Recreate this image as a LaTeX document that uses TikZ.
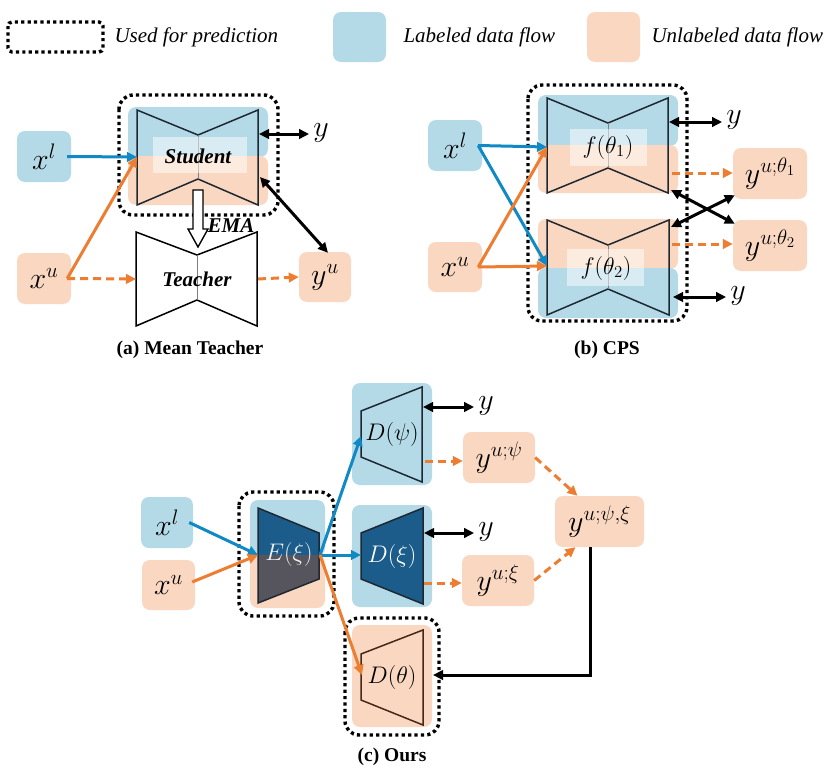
\RequirePackage{fix-cm}
\documentclass[tikz,border=0pt]{standalone}
\usepackage{fontspec}
\setmainfont{Liberation Serif}
\usetikzlibrary{arrows.meta}
\definecolor{lblue}{RGB}{180,218,232}
\definecolor{lorange}{RGB}{249,215,192}
\definecolor{ablue}{RGB}{16,137,196}
\definecolor{aorange}{RGB}{237,125,49}
\definecolor{dblue}{RGB}{27,92,138}
\definecolor{dgray}{RGB}{86,84,92}
\definecolor{edgec}{RGB}{30,40,50}
\definecolor{brownedge}{RGB}{70,40,25}
\tikzset{
  tip/.tip={Triangle[length=10pt,width=9.5pt]},
  bluebox/.style={fill=lblue, rounded corners=8pt, inner sep=0pt},
  orangebox/.style={fill=lorange, rounded corners=8pt, inner sep=0pt},
  predframe/.style={draw=black, line width=3.4pt, dash pattern=on 3.2pt off 3.2pt, rounded corners=14pt},
  bluearrow/.style={draw=ablue, line width=3pt, -tip},
  orangearrow/.style={draw=aorange, line width=3pt, -tip},
  dasharrow/.style={draw=aorange, line width=3pt, dash pattern=on 8pt off 5pt, -tip},
  biarrow/.style={draw=black, line width=3pt, tip-tip},
  blackarrow/.style={draw=black, line width=3pt, -tip},
  netline/.style={draw=edgec, line width=1.5pt, line join=miter},
  midline/.style={draw=gray, line width=0.8pt},
  labelbg/.style={fill=white, fill opacity=0.5},
  bigmath/.style={font=\fontsize{30}{34}\selectfont, inner sep=1pt},
  netmath/.style={font=\fontsize{24}{28}\selectfont, inner sep=1pt},
  netname/.style={font=\fontsize{21}{25}\selectfont\bfseries\itshape, inner sep=1pt},
  caption/.style={font=\fontsize{19.5}{23}\selectfont\bfseries},
  legendtext/.style={font=\fontsize{21}{25}\selectfont\itshape, anchor=west},
}
\begin{document}
\begin{tikzpicture}[x=1pt,y=-1pt]
\useasboundingbox[fill=white] (0,0) rectangle (831,771);

% ---------------- Legend ----------------
\draw[predframe, rounded corners=4pt] (8,22) rectangle (103,52);
\node[legendtext] (lg1) at (111,37) {Used for prediction};
\node[bluebox, minimum width=53pt, minimum height=50pt] (lgb) at (359.5,37) {};
\node[legendtext] (lg2) at (400,37) {Labeled data flow};
\node[orangebox, minimum width=53pt, minimum height=50pt] (lgo) at (613.5,37) {};
\node[legendtext] (lg3) at (648,37) {Unlabeled data flow};

% ---------------- (a) Mean Teacher ----------------
\fill[lblue, rounded corners=8pt] (128,107) rectangle (268,157);
\fill[lorange, rounded corners=8pt] (128,156) rectangle (268,205);
\draw[predframe] (119,95) rectangle (278,215);
\draw[netline] (137,110) -- (198,135) -- (258,110) -- (258,205) -- (198,179) -- (137,205) -- cycle;
\draw[midline] (198,135) -- (198,179);
\fill[labelbg] (153,137) rectangle (247,173);
\node[netname] (student) at (198,156) {Student};

\draw[netline, draw=black] (136,232) -- (197,255) -- (257,232) -- (257,326) -- (197,300) -- (136,326) -- cycle;
\draw[midline] (197,255) -- (197,300);
\node[netname] (teacher) at (197,279) {Teacher};

\filldraw[fill=white, draw=black, line width=1.4pt] (193,190) -- (193,229) -- (188,229) -- (198,247) -- (208,229) -- (203,229) -- (203,190) -- cycle;
\node[netname] (ema) at (231,226) {EMA};

\node[bluebox, minimum width=54pt, minimum height=51pt] (xla) at (44,156.5) {};
\node[bigmath] at (xla) {$x^{l}$};
\node[orangebox, minimum width=54pt, minimum height=51pt] (xua) at (44,278.5) {};
\node[bigmath] at (xua) {$x^{u}$};
\node[orangebox, minimum width=52pt, minimum height=50pt] (yua) at (325,277) {};
\node[bigmath] at (yua) {$y^{u}$};
\node[bigmath] (ya) at (321,133) {$y$};

\coordinate (stL) at (137,157);
\coordinate (teL) at (136,279);
\coordinate (teR) at (258,279);
\coordinate (stR1) at (259,134);
\coordinate (stR2) at (260,177);
\draw[bluearrow] ([xshift=-4pt]xla.east) -- (stL);
\draw[orangearrow] ([xshift=-4pt]xua.east) -- (stL);
\draw[dasharrow] ([xshift=-4pt]xua.east) -- (teL);
\draw[dasharrow] (teR) -- (yua.west);
\draw[biarrow] (stR1) -- ([xshift=-3pt]ya.west |- stR1);
\draw[biarrow] (stR2) -- ([xshift=3pt,yshift=-1pt]yua.north);
\node[caption] (capa) at (190,350) {(a) Mean Teacher};

% ---------------- (b) CPS ----------------
\fill[lblue, rounded corners=8pt] (538,95) rectangle (678,146);
\fill[lorange, rounded corners=8pt] (538,145) rectangle (678,193);
\fill[lorange, rounded corners=8pt] (538,219) rectangle (678,269);
\fill[lblue, rounded corners=8pt] (538,268) rectangle (678,318);
\draw[predframe] (528,85) rectangle (687,321);
\draw[netline] (547,98) -- (608,123) -- (668,98) -- (668,193) -- (608,168) -- (547,193) -- cycle;
\draw[midline] (608,123) -- (608,168);
\draw[netline] (547,220) -- (608,245) -- (669,220) -- (669,315) -- (608,289) -- (547,315) -- cycle;
\draw[midline] (608,245) -- (608,289);
\fill[labelbg] (570,129) rectangle (647,166);
\node[netmath] (f1) at (608,147) {$f(\theta_1)$};
\fill[labelbg] (567,249) rectangle (644,286);
\node[netmath] (f2) at (606,268) {$f(\theta_2)$};

\node[bluebox, minimum width=54pt, minimum height=51pt] (xlb) at (455,145.5) {};
\node[bigmath] at (xlb) {$x^{l}$};
\node[orangebox, minimum width=54pt, minimum height=50pt] (xub) at (455,267) {};
\node[bigmath] at (xub) {$x^{u}$};
\node[orangebox, minimum width=74pt, minimum height=51pt] (yt1) at (770,173.5) {};
\node[bigmath] at (yt1) {$y^{u;\theta_1}$};
\node[orangebox, minimum width=74pt, minimum height=51pt] (yt2) at (770,245.5) {};
\node[bigmath] at (yt2) {$y^{u;\theta_2}$};
\node[bigmath] (yb1) at (734,120) {$y$};
\node[bigmath] (yb2) at (738,296) {$y$};

\coordinate (f1L) at (547,147);
\coordinate (f2L) at (547,266);
\coordinate (f1R) at (669,122);
\coordinate (f1D) at (672,173);
\coordinate (f1X) at (671,190);
\coordinate (f2X) at (671,227);
\coordinate (f2D) at (672,244);
\coordinate (f2R) at (673,297);
\draw[bluearrow] ([xshift=-4pt]xlb.east) -- (f1L);
\draw[bluearrow] ([xshift=-4pt]xlb.east) -- (f2L);
\draw[orangearrow] ([xshift=-4pt]xub.east) -- (f1L);
\draw[orangearrow] ([xshift=-4pt]xub.east) -- (f2L);
\draw[biarrow] (f1R) -- ([xshift=-3pt]yb1.west |- f1R);
\draw[biarrow] (f2R) -- ([xshift=-3pt]yb2.west |- f2R);
\draw[dasharrow] (f1D) -- (yt1.west |- f1D);
\draw[dasharrow] (f2D) -- (yt2.west |- f2D);
\draw[biarrow] (f1X) -- ([xshift=2pt,yshift=-4pt]yt2.north west);
\draw[biarrow] (f2X) -- ([xshift=2pt,yshift=4pt]yt1.south west);
\node[caption] (capb) at (607,350) {(b) CPS};

% ---------------- (c) Ours ----------------
\fill[lblue, rounded corners=8pt] (250,500) rectangle (325,556);
\fill[lorange, rounded corners=8pt] (250,555) rectangle (325,608);
\draw[predframe] (239,492) rectangle (334,616);
\fill[dblue] (258,508) -- (319,533) -- (319,555) -- (258,555) -- cycle;
\fill[dgray] (258,555) -- (319,555) -- (319,579) -- (258,603) -- cycle;
\draw[netline] (258,508) -- (319,533) -- (319,579) -- (258,603) -- cycle;
\node[netmath, text=white!88!gray] (enc) at (289,554) {$E(\xi)$};

\node[bluebox, minimum width=80pt, minimum height=102pt] (dpbox) at (392,434) {};
\draw[netline] (361,411) -- (422,387) -- (422,482) -- (361,457) -- cycle;
\node[netmath] (dpsi) at (392,434) {$D(\psi)$};

\node[bluebox, minimum width=80pt, minimum height=102pt] (dxbox) at (392,556) {};
\filldraw[netline, fill=dblue] (361,533) -- (423,508) -- (423,604) -- (361,579) -- cycle;
\node[netmath, text=white] (dxi) at (392,556) {$D(\xi)$};

\node[orangebox, minimum width=80pt, minimum height=102pt] (dtbox) at (392,676) {};
\draw[predframe] (345,618) rectangle (439,735);
\draw[netline, draw=brownedge] (361,654) -- (423,630) -- (423,725) -- (361,700) -- cycle;
\node[netmath] (dth) at (392,677) {$D(\theta)$};

\node[bluebox, minimum width=52pt, minimum height=51pt] (xlc) at (167,522.5) {};
\node[bigmath] at (xlc) {$x^{l}$};
\node[orangebox, minimum width=53pt, minimum height=50pt] (xuc) at (168.5,585) {};
\node[bigmath] at (xuc) {$x^{u}$};
\node[orangebox, minimum width=72pt, minimum height=51pt] (ypsi) at (499,457.5) {};
\node[bigmath] at (ypsi) {$y^{u;\psi}$};
\node[orangebox, minimum width=72pt, minimum height=51pt] (yxi) at (498,580.5) {};
\node[bigmath] at (yxi) {$y^{u;\xi}$};
\node[orangebox, minimum width=89pt, minimum height=51pt] (ypx) at (599.5,521.5) {};
\node[bigmath] at (ypx) {$y^{u;\psi,\xi}$};
\node[bigmath] (yc1) at (486,406) {$y$};
\node[bigmath] (yc2) at (486,532) {$y$};

\coordinate (eL) at (258,555);
\coordinate (eR) at (320,555);
\coordinate (dpL) at (361,436);
\coordinate (dxL) at (361,555);
\coordinate (dtL) at (362,675);
\coordinate (dpR) at (423,407);
\coordinate (dpD) at (425,461);
\coordinate (dxR) at (424,533);
\coordinate (dxD) at (424,583);
\coordinate (dtR) at (433,675);
\draw[bluearrow] ([xshift=-4pt]xlc.east) -- (eL);
\draw[orangearrow] ([xshift=-3pt,yshift=3pt]xuc.east) -- (eL);
\draw[bluearrow] (eR) -- (dpL);
\draw[bluearrow] (eR) -- (dxL);
\draw[orangearrow] (eR) -- (dtL);
\draw[biarrow] (dpR) -- ([xshift=-3pt]yc1.west |- dpR);
\draw[biarrow] (dxR) -- ([xshift=-3pt]yc2.west |- dxR);
\draw[dasharrow] (dpD) -- (ypsi.west |- dpD);
\draw[dasharrow] (dxD) -- (yxi.west |- dxD);
\draw[dasharrow] (ypsi.east) -- ([xshift=-22pt]ypx.north);
\draw[dasharrow] (yxi.east) -- ([xshift=-24pt]ypx.south);
\draw[blackarrow] ([xshift=-9.5pt]ypx.south) |- (dtR);
\node[caption] (capc) at (392,757) {(c) Ours};
\end{tikzpicture}
\end{document}
